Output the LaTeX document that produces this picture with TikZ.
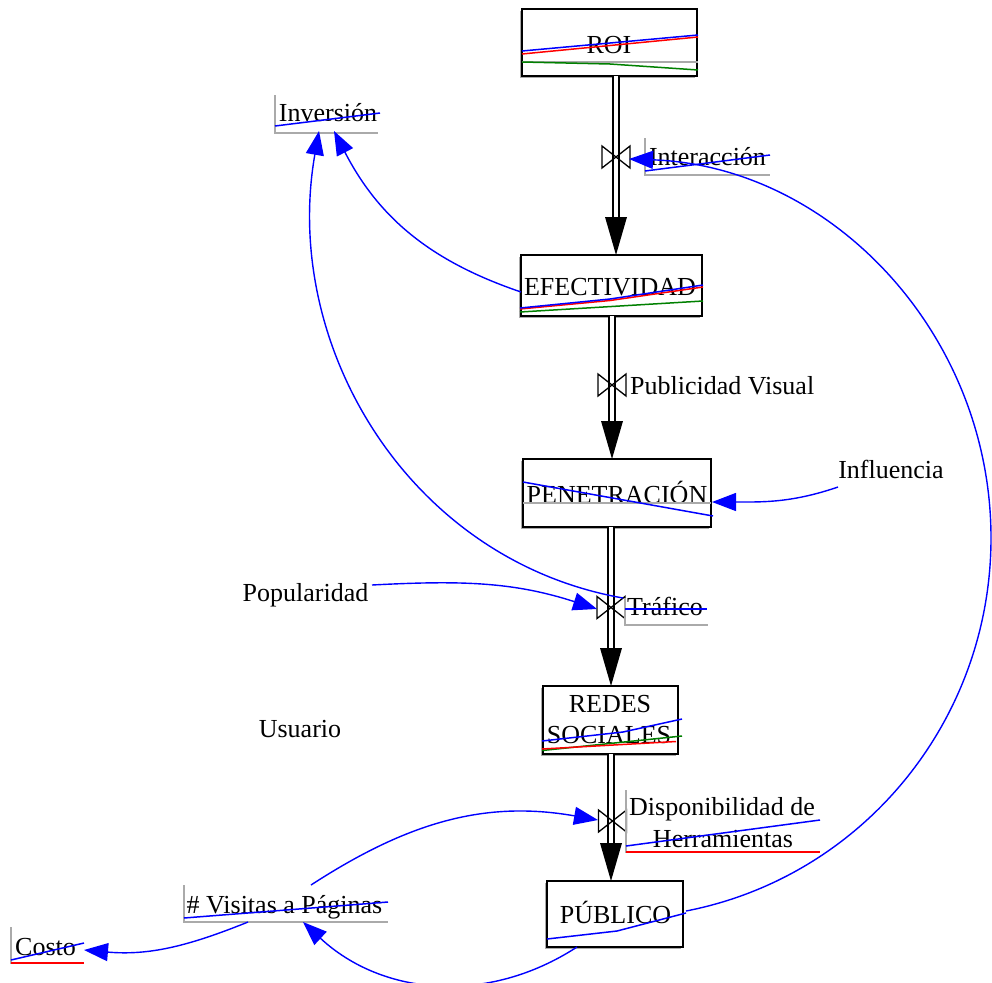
\documentclass[tikz,border=0pt]{standalone}
\usepackage{fontspec}
\setmainfont{Liberation Serif}
\usetikzlibrary{arrows.meta,shadows}
\definecolor{vblue}{RGB}{0,0,255}
\definecolor{vred}{RGB}{255,0,0}
\definecolor{vgreen}{RGB}{0,128,0}
\definecolor{vgray}{RGB}{170,170,170}
\tikzset{
  lbl/.style={font=\fontsize{26}{31}\selectfont, inner sep=0pt, anchor=base},
  stock/.style={draw=black, line width=1.5pt, fill=white, inner sep=0pt,
    drop shadow={shadow xshift=-2pt, shadow yshift=-2pt, fill=vgray, opacity=1}},
  pipe/.style={draw=black, line width=1.4pt, double=white, double distance=4.6pt},
  flowhead/.style={fill=black},
  axisl/.style={draw=vgray, line width=1.5pt},
  spark/.style={line width=1.5pt},
  link/.style={draw=vblue, line width=1.4pt, -{Triangle[length=24pt,width=18pt]}},
  valve/.pic={\draw[line width=1.3pt] (0,0) -- (-14,11) -- (-14,-11) -- cycle
                                      (0,0) -- (14,11) -- (14,-11) -- cycle;}
}
\begin{document}
\begin{tikzpicture}[x=1pt,y=1pt]
\useasboundingbox (0,0) rectangle (992,-982);

% ---------- stocks ----------
\node[stock, minimum width=175pt, minimum height=67pt] (roi) at (609.5,-42.5) {};
\node[stock, minimum width=181pt, minimum height=61pt] (efe) at (611.5,-285.5) {};
\node[stock, minimum width=188pt, minimum height=68pt] (pen) at (617,-493) {};
\node[stock, minimum width=135pt, minimum height=68pt] (red) at (610.5,-720) {};
\node[stock, minimum width=136pt, minimum height=66pt] (pub) at (615,-914) {};

% ---------- texts ----------
\node[lbl] (roiT) at (609,-53) {ROI};
\node[lbl] (efeT) at (610,-295) {EFECTIVIDAD};
\node[lbl] (penT) at (617,-503) {PENETRACIÓN};
\node[lbl] (redT1) at (610,-712) {REDES};
\node[lbl] (redT2) at (609,-743) {SOCIALES};
\node[lbl] (pubT) at (615.5,-923) {PÚBLICO};
\node[lbl] (invT) at (328,-121) {Inversión};
\node[lbl] (intT) at (707.5,-165) {Interacción};
\node[lbl, anchor=base west] (pvT) at (630,-394) {Publicidad Visual};
\node[lbl] (infT) at (891,-478) {Influencia};
\node[lbl] (popT) at (305.5,-601) {Popularidad};
\node[lbl] (traT) at (665,-615) {Tráfico};
\node[lbl] (usuT) at (300,-737) {Usuario};
\node[lbl] (disT1) at (722,-815) {Disponibilidad de};
\node[lbl] (disT2) at (723,-847) {Herramientas};
\node[lbl] (visT) at (284.5,-913) {\# Visitas a Páginas};
\node[lbl] (cosT) at (45.5,-955) {Costo};

% ---------- flows ----------
\coordinate (f1a) at (616,-76);   \coordinate (f1b) at (616,-255);
\coordinate (f2a) at (612,-316);  \coordinate (f2b) at (612,-459);
\coordinate (f3a) at (611,-527);  \coordinate (f3b) at (611,-686);
\coordinate (f4a) at (611,-754);  \coordinate (f4b) at (611,-881);
\foreach \a/\b in {f1a/f1b,f2a/f2b,f3a/f3b,f4a/f4b}{
  \draw[pipe] (\a) -- ([yshift=37pt]\b);
  \fill[flowhead] (\b) -- ++(-11,38) -- ++(22,0) -- cycle;
}
\coordinate (v1) at (616,-157);
\coordinate (v2) at (612,-385);
\coordinate (v3) at (611,-607.5);
\coordinate (v4) at (612.5,-821);
\foreach \v in {v1,v2,v3,v4}{ \pic at (\v) {valve}; }

% ---------- auxiliary frames ----------
\draw[axisl] (275,-95) -- (275,-133) -- (378,-133);
\draw[axisl] (645,-138) -- (645,-175) -- (770,-175);
\draw[axisl] (625,-598) -- (625,-625) -- (708,-625);
\draw[axisl] (626,-790) -- (626,-852) -- (820,-852);
\draw[spark, vred] (626,-852) -- (820,-852);
\draw[axisl] (184,-885) -- (184,-922) -- (388,-922);
\draw[axisl] (11,-927) -- (11,-963) -- (84,-963);
\draw[spark, vred] (11,-963) -- (84,-963);

% ---------- sparklines ----------
\draw[axisl] (522,-62) -- (698,-62);
\draw[spark, vgreen] (522,-62) -- (610,-64) -- (698,-70);
\draw[spark, vred] (522,-54) -- (698,-37);
\draw[spark, vblue] (522,-51) -- (698,-35);

\draw[spark, vgreen] (520,-312) -- (703,-301);
\draw[spark, vred] (520,-309) -- (610,-300.5) -- (703,-287);
\draw[spark, vblue] (520,-308) -- (610,-299) -- (703,-285);

\draw[axisl] (523,-503) -- (711,-503);
\draw[spark, vblue] (523,-482) -- (713,-516);

\draw[spark, vgreen] (542,-750.5) -- (682,-736);
\draw[spark, vred] (542,-749) -- (676,-741.5);
\draw[spark, vblue] (542,-741) -- (623,-732) -- (682,-719);

\draw[spark, vblue] (547,-939) -- (617,-931) -- (686,-913);

\draw[spark, vblue] (275,-126) -- (380,-113);
\draw[spark, vblue] (645,-171) -- (770,-155);
\draw[spark, vblue] (625,-609) -- (707,-609);
\draw[spark, vblue] (626,-846) -- (820,-820);
\draw[spark, vblue] (184,-918) -- (388,-902);
\draw[spark, vblue] (11,-960) -- (84,-943);

% ---------- links ----------
\coordinate (pubR) at (686,-911);
\coordinate (arcE) at (991,-538);
\coordinate (v1in) at (629,-159);
\draw[link] (pubR) to[out=11,in=-90,looseness=0.96] (arcE)
                   to[out=90,in=-2,looseness=0.99] (v1in);

\coordinate (pubB) at (577,-947);
\coordinate (visIn) at (303,-922);
\draw[link] (pubB) to[out=-147,in=-43] (visIn);

\coordinate (visB) at (248,-922);
\coordinate (cosIn) at (84,-950);
\draw[link] (visB) to[out=202,in=-5] (cosIn);

\coordinate (visU) at (311,-885);
\coordinate (v4in) at (598,-820);
\draw[link] (visU) to[out=33,in=170] (v4in);

\coordinate (efeL) at (521,-292);
\coordinate (invIn2) at (334,-131);
\draw[link] (efeL) to[bend left=22] (invIn2);

\coordinate (traTL) at (623,-598);
\coordinate (invIn1) at (319,-131);
\draw[link] (traTL) to[out=170,in=-100,looseness=1.0] (invIn1);

\coordinate (popR) at (372,-585);
\coordinate (v3in) at (597,-609);
\draw[link] (popR) to[out=3,in=162] (v3in);

\coordinate (infL) at (838,-487);
\coordinate (penIn) at (712,-502);
\draw[link] (infL) to[out=199,in=0] (penIn);
\end{tikzpicture}
\end{document}
